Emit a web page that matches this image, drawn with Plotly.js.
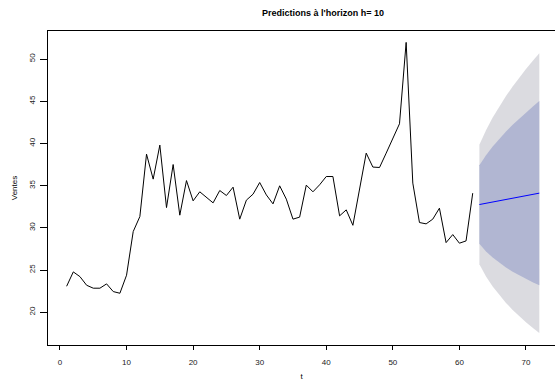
<!DOCTYPE html>
<html>
<head>
<meta charset="utf-8">
<script src="https://cdn.plot.ly/plotly-3.0.1.min.js"></script>
<style>html,body{margin:0;padding:0;background:#fff;}#chart{width:555px;height:381px;}</style>
</head>
<body>
<div id="chart"></div>
<script>
// Observed series (t = 1..62)
const tObs = [1,2,3,4,5,6,7,8,9,10,11,12,13,14,15,16,17,18,19,20,21,22,23,24,25,26,27,28,29,30,31,32,33,34,35,36,37,38,39,40,41,42,43,44,45,46,47,48,49,50,51,52,53,54,55,56,57,58,59,60,61,62];
const ventes = [23.08,24.78,24.22,23.2,22.85,22.85,23.36,22.45,22.25,24.39,29.56,31.34,38.73,35.77,39.8,32.4,37.5,31.5,35.6,33.2,34.27,33.64,32.96,34.42,33.83,34.82,31.03,33.28,33.99,35.37,33.9,32.84,34.98,33.4,31.03,31.27,35.06,34.27,35.1,36.08,36.08,31.42,32.13,30.3,34.58,38.85,37.2,37.15,38.85,40.59,42.33,51.97,35.3,30.63,30.47,31.03,32.33,28.25,29.2,28.18,28.45,34.11];
// Forecast horizon h = 10 (t = 63..72)
const tFc = [63,64,65,66,67,68,69,70,71,72];
const prevision = [32.76,32.91,33.06,33.21,33.36,33.51,33.66,33.81,33.96,34.11];
const lo80 = [28.11,27.21,26.48,25.85,25.30,24.81,24.36,23.94,23.56,23.20];
const hi80 = [37.41,38.61,39.64,40.57,41.42,42.21,42.96,43.68,44.36,45.02];
const lo95 = [25.69,24.25,23.06,22.03,21.11,20.28,19.52,18.81,18.15,17.53];
const hi95 = [39.83,41.57,43.06,44.39,45.61,46.74,47.80,48.81,49.77,50.69];
const xTicks = [0,10,20,30,40,50,60,70];
const yTicks = [20,25,30,35,40,45,50];

const traces = [
  {x: tFc, y: lo95, mode: 'lines', line: {width: 0, color: 'rgba(0,0,0,0)'}, showlegend: false, hoverinfo: 'skip'},
  {x: tFc, y: hi95, mode: 'lines', line: {width: 0, color: 'rgba(0,0,0,0)'}, fill: 'tonexty', fillcolor: '#DBDBE0', showlegend: false, hoverinfo: 'skip'},
  {x: tFc, y: lo80, mode: 'lines', line: {width: 0, color: 'rgba(0,0,0,0)'}, showlegend: false, hoverinfo: 'skip'},
  {x: tFc, y: hi80, mode: 'lines', line: {width: 0, color: 'rgba(0,0,0,0)'}, fill: 'tonexty', fillcolor: '#B1B6D2', showlegend: false, hoverinfo: 'skip'},
  {x: tObs, y: ventes, mode: 'lines', line: {color: '#000000', width: 1}, showlegend: false},
  {x: tFc, y: prevision, mode: 'lines', line: {color: '#0000FF', width: 1}, showlegend: false}
];

const fontFam = '"Liberation Sans", Arial, Helvetica, sans-serif';
const layout = {
  width: 555, height: 381,
  margin: {l: 47.5, r: 0, t: 31.3, b: 36},
  paper_bgcolor: '#ffffff', plot_bgcolor: '#ffffff',
  font: {family: fontFam, size: 8, color: '#000000'},
  title: {text: "<b>Predictions à l'horizon h= 10</b>", font: {family: fontFam, size: 9, color: '#000'}, x: 0.5425, xanchor: 'center', y: 1 - 13/381, yanchor: 'middle', xref: 'paper'},
  showlegend: false,
  xaxis: {
    range: [-1.80, 74.36], tickvals: xTicks, ticktext: xTicks.map(String),
    showline: true, linecolor: '#000', linewidth: 1, mirror: true,
    ticks: 'outside', ticklen: 4, tickcolor: '#000', tickwidth: 1,
    showgrid: false, zeroline: false, ticklabelstandoff: 5,
    tickfont: {size: 8, family: fontFam, color: '#222'},
    title: {text: 't', font: {size: 8, family: fontFam}, standoff: 19}
  },
  yaxis: {
    range: [16.12, 53.32], tickvals: yTicks, ticktext: yTicks.map(String),
    showline: true, linecolor: '#000', linewidth: 1, mirror: false,
    ticks: 'outside', ticklen: 7, tickcolor: '#000', tickwidth: 1,
    showgrid: false, zeroline: false, tickangle: -90, ticklabelstandoff: 2,
    tickfont: {size: 8, family: fontFam, color: '#222'},
    title: {text: 'Ventes', font: {size: 8, family: fontFam}, standoff: 8}
  }
};

Plotly.newPlot('chart', traces, layout, {staticPlot: true, displayModeBar: false});
</script>
</body>
</html>
